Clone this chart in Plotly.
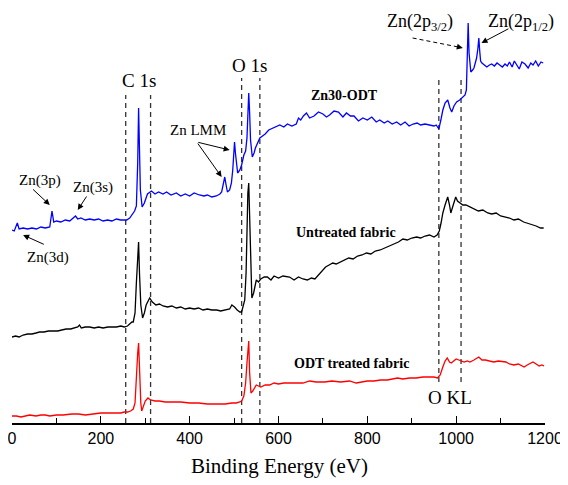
import plotly.graph_objects as go

# ---------------- data ----------------
zn_ev = [0,5,12,16,25,35,45,55,65,75,85,90,94,100,110,120,130,137,143,148,155,165,175,185,195,205,215,225,235,245,
         258,265,270,276,280,283,285,287,289,293,298,305,314,322,330,340,348,358,370,380,390,400,410,422,432,440,450,460,
         468,472,476,479,482,485,490,494,497,499,501,503,505,508,513,517,522,526,529,531,533,535,537,541,545,548,553,558,
         564,570,578,587,595,603,612,620,630,640,645,650,656,663,670,680,690,700,708,715,725,735,745,753,762,770,780,790,
         800,810,820,828,838,846,856,866,875,885,894,903,912,920,930,941,950,955,961,966,970,975,981,986,990,995,1001,1008,
         1015,1020,1023,1025,1027,1029,1031,1033,1037,1040,1043,1046,1049,1051,1053,1055,1058,1063,1069,1075,1080,1086,
         1092,1098,1104,1110,1115,1120,1126,1131,1136,1142,1148,1155,1162,1168,1173,1179,1185,1191,1196]
zn_int = [193,192,200,194,195,194,195,194,196,195,196,212,201,202,201,203,202,205,207,204,205,203,204,203,204,202,203,202,204,203,
          203,205,208,212,217,260,315,260,233,216,220,229,232,229,231,229,231,228,230,227,229,227,230,228,227,228,226,227,
          229,231,238,246,238,231,233,240,253,270,281,270,263,250,253,258,268,272,285,310,330,310,283,266,270,275,280,285,
          287,289,293,295,297,298,296,299,297,299,305,303,307,310,305,307,311,309,306,308,312,311,306,310,307,307,302,305,
          303,306,301,303,300,302,299,301,298,301,297,299,300,298,299,298,297,298,294,304,313,320,323,315,311,317,321,323,
          326,328,333,370,400,370,355,351,353,355,360,365,375,385,372,362,360,358,356,358,359,357,
          360,358,356,359,357,361,356,362,358,354,361,359,355,360,358,362,357,361,360]

untreated_ev = [0,8,16,25,35,45,54,62,72,82,92,103,112,122,132,142,148,152,156,165,175,185,195,205,216,225,235,245,253,260,
                266,270,273,277,280,283,285,287,290,294,298,302,306,310,316,324,332,340,350,360,370,380,390,400,410,420,430,
                440,450,461,470,480,490,495,501,507,513,517,521,524,527,529,531,533,535,537,540,544,547,550,555,560,568,575,
                583,590,600,610,625,635,645,655,665,674,682,690,698,706,714,722,730,740,748,758,768,778,788,798,808,818,829,
                840,850,860,870,880,890,900,911,920,930,940,950,957,962,966,970,975,981,985,988,992,996,999,1003,1008,1015,
                1022,1031,1040,1050,1060,1071,1080,1090,1100,1112,1120,1130,1140,1152,1160,1170,1180,1190,1197]
untreated_int = [86,87,86,88,89,89,90,91,91,92,92,92,93,94,94,95,96,98,95,96,96,95,96,95,96,96,96,97,96,97,
                 99,101,101,110,140,170,181,150,118,105,110,118,122,125,121,118,119,117,116,117,115,116,114,115,114,115,113,
                 114,113,113,112,113,114,118,116,113,111,111,117,123,150,200,230,240,200,160,125,130,138,143,141,144,146,146,
                 143,147,145,147,146,143,146,144,143,145,144,148,152,156,158,160,159,161,163,165,164,167,168,170,169,172,173,
                 175,177,179,181,184,183,185,186,185,187,188,186,188,192,200,210,218,226,218,210,216,222,226,222,220,218,
                 218,216,214,212,213,210,209,210,207,206,205,203,204,201,200,198,197,195,195]

odt_ev = [0,10,20,30,40,54,65,75,85,100,115,135,150,165,180,200,216,230,245,253,260,267,273,277,280,283,285,287,290,292,
          296,300,306,312,322,332,345,360,380,400,420,440,461,480,495,505,513,517,522,526,529,531,533,535,538,542,546,550,
          555,560,570,580,590,600,612,623,640,655,670,685,704,720,740,760,775,786,800,815,830,845,860,868,880,895,910,925,
          940,950,958,964,970,975,980,985,989,995,1000,1006,1012,1018,1025,1031,1040,1051,1058,1066,1075,1085,1095,1105,
          1112,1120,1130,1140,1153,1160,1167,1173,1180,1187,1193,1198]
odt_int = [7,7,6,7,8,7,8,8,7,8,8,9,9,8,9,10,10,10,10,11,11,12,14,20,50,70,80,50,20,12,
           18,22,25,23,22,22,21,21,21,20,20,19,19,19,20,20,21,22,27,40,60,75,82,50,30,32,35,38,
           37,36,38,38,40,39,40,40,40,40,42,41,41,42,41,42,40,41,42,42,43,43,44,45,44,45,45,46,
           46,46,45,48,56,62,65,61,60,62,64,63,62,61,62,61,63,66,63,63,62,61,62,61,
           61,59,58,59,56,58,60,61,59,57,58,57]

x_ticks = [0, 200, 400, 600, 800, 1000, 1200]
x_title = "Binding Energy (eV)"

# reference lines (eV) and their vertical extents (a.u.)
c1s_lines = [256, 312]
o1s_lines = [517, 558]
okl_lines = [961, 1011]
c1s_top, o1s_top, okl_top, okl_bottom = 328, 345, 345, 41

# ---------------- figure ----------------
fig = go.Figure()
fig.add_trace(go.Scatter(x=odt_ev, y=odt_int, mode="lines", line=dict(color="#ff0000", width=1.3), name="ODT treated fabric"))
fig.add_trace(go.Scatter(x=untreated_ev, y=untreated_int, mode="lines", line=dict(color="#000000", width=1.3), name="Untreated fabric"))
fig.add_trace(go.Scatter(x=zn_ev, y=zn_int, mode="lines", line=dict(color="#0000ff", width=1.3), name="Zn30-ODT"))

dash_style = dict(color="#333333", width=1.3, dash="5px,4px")
for xv in c1s_lines:
    fig.add_shape(type="line", xref="x", yref="y", x0=xv, x1=xv, y0=0, y1=c1s_top, line=dash_style, layer="below")
for xv in o1s_lines:
    fig.add_shape(type="line", xref="x", yref="y", x0=xv, x1=xv, y0=0, y1=o1s_top, line=dash_style, layer="below")
for xv in okl_lines:
    fig.add_shape(type="line", xref="x", yref="y", x0=xv, x1=xv, y0=okl_bottom, y1=okl_top, line=dash_style, layer="below")

serif = "Liberation Serif"

def label(text, x, y, size=15, bold=False):
    if bold:
        text = "<b>" + text + "</b>"
    fig.add_annotation(x=x, y=y, xref="x", yref="y", text=text, showarrow=False,
                       font=dict(family=serif, size=size, color="black"))

def arrow(x0, y0, x1, y1):
    fig.add_annotation(x=x1, y=y1, ax=x0, ay=y0, xref="x", yref="y", axref="x", ayref="y",
                       text="", showarrow=True, arrowhead=2, arrowsize=1.2, arrowwidth=1, arrowcolor="black")

label("C 1s", 287, 343, size=19)
label("O 1s", 535, 358, size=19)
label("O KL", 985, 26, size=19)
label("Zn30-ODT", 749, 328, size=14, bold=True)
label("Untreated fabric", 751, 191, size=14, bold=True)
label("ODT treated fabric", 765, 60, size=14, bold=True)
label("Zn LMM", 419, 293, size=15)
label("Zn(3p)", 62, 243, size=15)
label("Zn(3s)", 182, 236, size=15)
label("Zn(3d)", 80, 166, size=15)
label("Zn(2p<sub>3/2</sub>)", 918, 401, size=18)
label("Zn(2p<sub>1/2</sub>)", 1145, 401, size=18)

# axis title (serif), placed under the tick labels in paper coordinates
fig.add_annotation(x=0.5025, y=-0.1036, xref="paper", yref="paper", text=x_title, showarrow=False,
                   xanchor="center", yanchor="middle", font=dict(family=serif, size=21, color="black"))

arrow(75, 178, 25, 188)
arrow(44, 235, 85, 218)
arrow(170, 228, 148, 213)
arrow(416, 281, 472, 246)
arrow(416, 281, 490, 273)
arrow(1121, 395, 1057, 380)
# dashed arrow for Zn(2p3/2)
fig.add_shape(type="line", xref="x", yref="y", x0=902, y0=385, x1=1005, y1=376,
              line=dict(color="black", width=1, dash="4px,3px"))
arrow(1000, 376.5, 1015, 375)

# the page adds an 8px body margin, so the figure is sized 8px smaller
fig.update_layout(
    width=560, height=477,
    margin=dict(l=4, r=23, t=0, b=62, autoexpand=False),
    paper_bgcolor="white", plot_bgcolor="white",
    showlegend=False,
    xaxis=dict(range=[0, 1200], tickvals=x_ticks, ticks="inside", ticklen=7, tickwidth=1.2, tickcolor="black",
               showline=True, linecolor="black", linewidth=1.5, showgrid=False, zeroline=False,
               ticklabeloverflow="allow",
               tickfont=dict(family="Liberation Sans", size=16, color="black"),
               minor=dict(dtick=100, ticks="inside", ticklen=5, tickcolor="black", tickwidth=1.2, showgrid=False)),
    yaxis=dict(range=[0, 415], visible=False, showgrid=False, zeroline=False),
)

fig.write_html("out.html")
